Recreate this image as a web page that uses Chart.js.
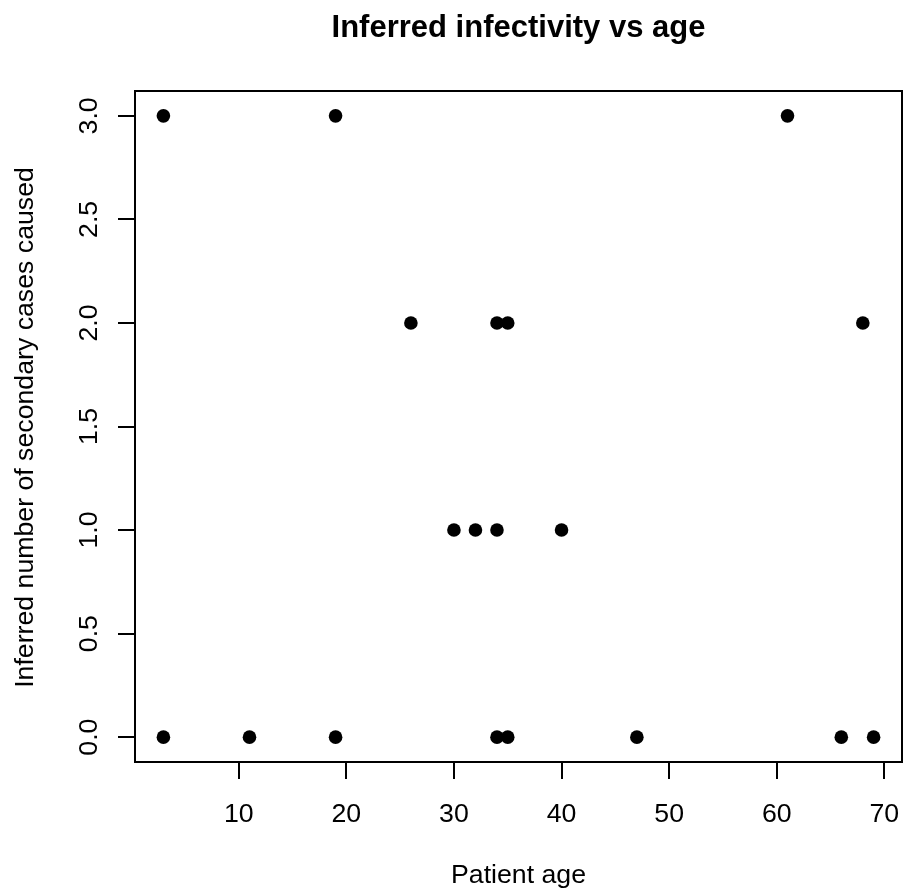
<!DOCTYPE html>
<html>
<head>
<meta charset="utf-8">
<script src="https://cdn.jsdelivr.net/npm/chart.js@4/dist/chart.umd.min.js"></script>
<style>
html, body { margin: 0; padding: 0; background: #fff; }
#wrap { width: 904px; height: 893px; }
</style>
</head>
<body>
<div id="wrap"><canvas id="c" width="904" height="893"></canvas></div>
<script>
// Data
const patientAge = [3, 19, 61, 26, 34, 35, 68, 30, 32, 34, 40, 3, 11, 19, 34, 35, 47, 66, 69];
const secondaryCases = [3, 3, 3, 2, 2, 2, 2, 1, 1, 1, 1, 0, 0, 0, 0, 0, 0, 0, 0];
const xTickValues = [10, 20, 30, 40, 50, 60, 70];
const yTickValues = [0, 0.5, 1, 1.5, 2, 2.5, 3];
const titleText = 'Inferred infectivity vs age';
const xTitle = 'Patient age';
const yTitle = 'Inferred number of secondary cases caused';

const FONT = "'Liberation Sans', Arial, Helvetica, sans-serif";

// R-style 4% axis extension
function extend(arr) {
  const lo = Math.min(...arr), hi = Math.max(...arr);
  const d = (hi - lo) * 0.04;
  return [lo - d, hi + d];
}
const [xMin, xMax] = extend(patientAge);
const [yMin, yMax] = extend(secondaryCases);

const points = patientAge.map((a, i) => ({ x: a, y: secondaryCases[i] }));

const rPlot = {
  id: 'rPlot',
  afterDraw(chart) {
    const ctx = chart.ctx;
    const a = chart.chartArea;
    const xs = chart.scales.x, ys = chart.scales.y;
    ctx.save();
    ctx.strokeStyle = '#000';
    ctx.lineWidth = 2;
    // box
    ctx.strokeRect(a.left, a.top, a.right - a.left, a.bottom - a.top);
    // axis ticks
    ctx.beginPath();
    xTickValues.forEach(v => {
      const px = Math.round(xs.getPixelForValue(v));
      ctx.moveTo(px, a.bottom);
      ctx.lineTo(px, a.bottom + 17);
    });
    yTickValues.forEach(v => {
      const py = Math.round(ys.getPixelForValue(v));
      ctx.moveTo(a.left, py);
      ctx.lineTo(a.left - 17, py);
    });
    ctx.stroke();
    ctx.fillStyle = '#000';
    // x tick labels
    ctx.font = '26.7px ' + FONT;
    ctx.textAlign = 'center';
    ctx.textBaseline = 'alphabetic';
    xTickValues.forEach(v => {
      ctx.fillText(String(v), xs.getPixelForValue(v), 822);
    });
    // y tick labels (rotated)
    yTickValues.forEach(v => {
      ctx.save();
      ctx.translate(97, ys.getPixelForValue(v));
      ctx.rotate(-Math.PI / 2);
      ctx.fillText(v.toFixed(1), 0, 0);
      ctx.restore();
    });
    // axis titles
    const cx = (a.left + a.right) / 2;
    const cy = (a.top + a.bottom) / 2;
    ctx.fillText(xTitle, cx, 883);
    ctx.save();
    ctx.translate(33, cy + 1);
    ctx.rotate(-Math.PI / 2);
    ctx.fillText(yTitle, 0, 0);
    ctx.restore();
    // main title
    ctx.font = 'bold 31px ' + FONT;
    ctx.fillText(titleText, cx, 37);
    ctx.restore();
  }
};

new Chart(document.getElementById('c'), {
  type: 'scatter',
  data: {
    datasets: [{
      data: points,
      backgroundColor: '#000',
      borderWidth: 0,
      pointRadius: 6.8,
      pointHoverRadius: 6.8,
      pointStyle: 'circle'
    }]
  },
  options: {
    responsive: false,
    animation: false,
    devicePixelRatio: 1,
    layout: { autoPadding: false, padding: { left: 0, right: 2, top: 91, bottom: 0 } },
    plugins: { legend: { display: false }, title: { display: false }, tooltip: { enabled: false } },
    scales: {
      x: {
        type: 'linear',
        min: xMin, max: xMax,
        afterBuildTicks: s => { s.ticks = xTickValues.map(v => ({ value: v })); },
        afterFit: s => { s.height = 131; },
        ticks: { display: false },
        grid: { display: false },
        border: { display: false }
      },
      y: {
        type: 'linear',
        min: yMin, max: yMax,
        afterBuildTicks: s => { s.ticks = yTickValues.map(v => ({ value: v })); },
        afterFit: s => { s.width = 135; },
        ticks: { display: false },
        grid: { display: false },
        border: { display: false }
      }
    }
  },
  plugins: [rPlot]
});
</script>
</body>
</html>
